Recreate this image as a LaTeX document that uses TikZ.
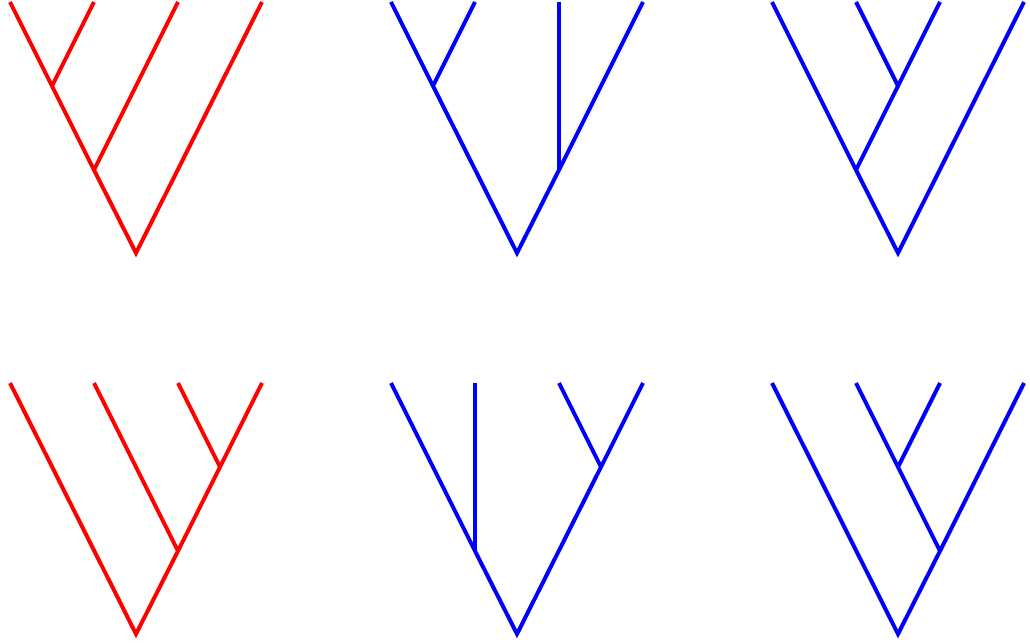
\documentclass[tikz,border=0pt]{standalone}
\begin{document}
\begin{tikzpicture}[x=1pt,y=-1pt,
  redtree/.style={draw=red,line width=4pt,line cap=butt,line join=miter},
  bluetree/.style={draw=blue,line width=4pt,line cap=butt,line join=miter}]
\useasboundingbox (0,0) rectangle (1030,644);
% Tree 1
\coordinate (a1) at (10,2); \coordinate (a2) at (94,2); \coordinate (a3) at (178,2); \coordinate (a4) at (262,2);
\coordinate (ai1) at (52,86); \coordinate (ai2) at (94,170); \coordinate (ar) at (136,253);
\draw[redtree] (a1) -- (ai1) -- (ai2) -- (ar) -- (a4);
\draw[redtree] (a2) -- (ai1);
\draw[redtree] (a3) -- (ai2);
% Tree 2
\coordinate (b1) at (391,2); \coordinate (b2) at (475,2); \coordinate (b3) at (559,2); \coordinate (b4) at (643,2);
\coordinate (bi1) at (433,86); \coordinate (bi2) at (559,170); \coordinate (br) at (517,253);
\draw[bluetree] (b1) -- (bi1) -- (br) -- (bi2) -- (b4);
\draw[bluetree] (b2) -- (bi1);
\draw[bluetree] (b3) -- (bi2);
% Tree 3
\coordinate (c1) at (772,2); \coordinate (c2) at (856,2); \coordinate (c3) at (940,2); \coordinate (c4) at (1024,2);
\coordinate (ci1) at (898,86); \coordinate (ci2) at (856,170); \coordinate (cr) at (898,253);
\draw[bluetree] (c1) -- (ci2) -- (cr) -- (c4);
\draw[bluetree] (c2) -- (ci1) -- (c3);
\draw[bluetree] (ci1) -- (ci2);
% Tree 4
\coordinate (d1) at (10,383); \coordinate (d2) at (94,383); \coordinate (d3) at (178,383); \coordinate (d4) at (262,383);
\coordinate (di1) at (220,467); \coordinate (di2) at (178,551); \coordinate (dr) at (136,634);
\draw[redtree] (d1) -- (dr) -- (di2) -- (di1) -- (d4);
\draw[redtree] (d3) -- (di1);
\draw[redtree] (d2) -- (di2);
% Tree 5
\coordinate (e1) at (391,383); \coordinate (e2) at (475,383); \coordinate (e3) at (559,383); \coordinate (e4) at (643,383);
\coordinate (ei1) at (475,551); \coordinate (ei2) at (601,467); \coordinate (er) at (517,634);
\draw[bluetree] (e1) -- (ei1) -- (er) -- (ei2) -- (e4);
\draw[bluetree] (e2) -- (ei1);
\draw[bluetree] (e3) -- (ei2);
% Tree 6
\coordinate (f1) at (772,383); \coordinate (f2) at (856,383); \coordinate (f3) at (940,383); \coordinate (f4) at (1024,383);
\coordinate (fi1) at (898,467); \coordinate (fi2) at (940,551); \coordinate (fr) at (898,634);
\draw[bluetree] (f1) -- (fr) -- (fi2) -- (f4);
\draw[bluetree] (f2) -- (fi1) -- (fi2);
\draw[bluetree] (f3) -- (fi1);
\end{tikzpicture}
\end{document}
